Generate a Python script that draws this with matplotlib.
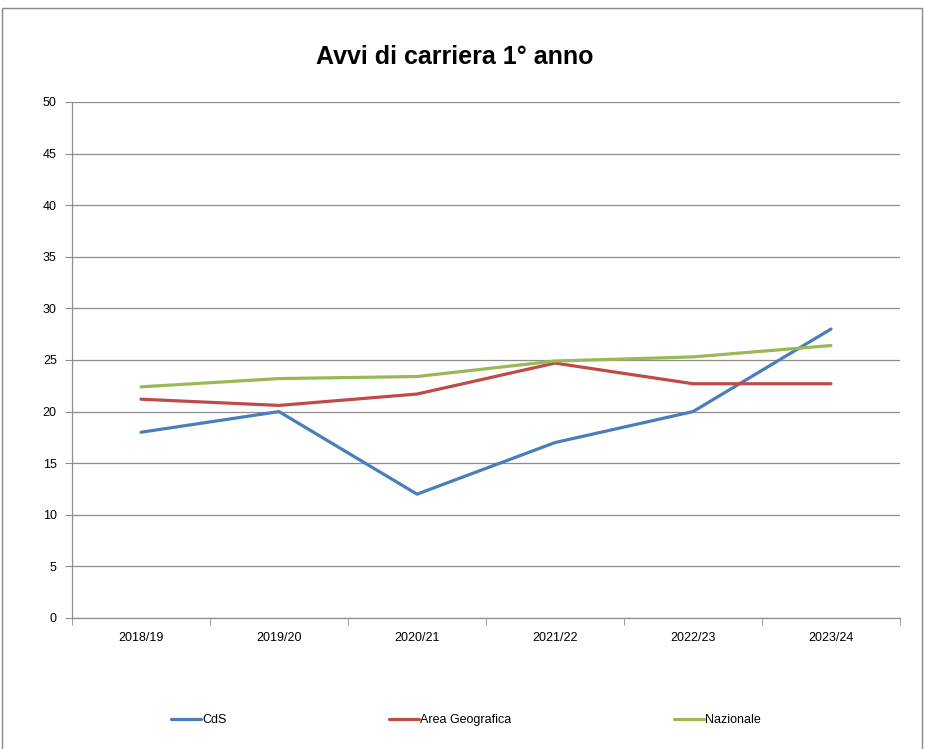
import matplotlib
matplotlib.use("Agg")
import matplotlib.pyplot as plt
from matplotlib.patches import Rectangle
import numpy as np

plt.rcParams['font.family'] = ['Liberation Sans Narrow', 'Liberation Sans', 'DejaVu Sans']

# data
years = ['2018/19', '2019/20', '2020/21', '2021/22', '2022/23', '2023/24']
cds = [18, 20, 12, 17, 20, 28]
area_geo = [21.2, 20.6, 21.7, 24.7, 22.7, 22.7]
nazionale = [22.4, 23.2, 23.4, 24.9, 25.3, 26.4]
y_ticks = [0, 5, 10, 15, 20, 25, 30, 35, 40, 45, 50]

series = [
    ('CdS', cds, '#4A7EBB'),
    ('Area Geografica', area_geo, '#BE4B48'),
    ('Nazionale', nazionale, '#98B954'),
]

W, H = 925, 749
fig = plt.figure(figsize=(W / 100, H / 100), dpi=100)
ax = fig.add_axes([72 / W, 1 - 618 / H, (900 - 72) / W, (618 - 102) / H])

# outer chart border (excel style)
fig.patches.append(Rectangle((2 / W, -0.01), (922 - 2) / W, 1 - 8 / H + 0.01,
                             transform=fig.transFigure, fill=False,
                             edgecolor='#888888', linewidth=1.0))

x = np.arange(len(years))
handles = []
for name, vals, col in series:
    h, = ax.plot(x, vals, color=col, linewidth=2.3, solid_capstyle='round',
                 solid_joinstyle='round', label=name, zorder=3)
    handles.append(h)

ax.set_xlim(-0.5, len(years) - 0.5)
ax.set_ylim(0, 50)
ax.set_yticks(y_ticks)
ax.set_yticklabels([str(v) for v in y_ticks])
ax.yaxis.grid(True, color='#8c8c8c', linewidth=0.9)
ax.set_axisbelow(True)

# category labels centred, tick marks on the boundaries
ax.set_xticks(x)
ax.set_xticklabels(years)
ax.set_xticks(np.arange(len(years) + 1) - 0.5, minor=True)
ax.tick_params(axis='x', which='major', length=0, pad=10, labelsize=9)
ax.tick_params(axis='x', which='minor', length=5, color='#8c8c8c', direction='out')
ax.tick_params(axis='y', length=5, color='#8c8c8c', pad=6, labelsize=9)

for side in ['top', 'right']:
    ax.spines[side].set_visible(False)
for side in ['left', 'bottom']:
    ax.spines[side].set_color('#8c8c8c')
    ax.spines[side].set_linewidth(0.9)

fig.text(455 / W, 1 - 57 / H, 'Avvi di carriera 1° anno', ha='center', va='center',
         fontsize=18, fontweight='bold')

fig.legend(handles=handles, loc='center', bbox_to_anchor=(466 / W, 1 - 720 / H),
           ncol=3, frameon=False, fontsize=9, handlelength=2.4, handletextpad=0.1,
           columnspacing=13)

fig.savefig('out.png', dpi=100)
